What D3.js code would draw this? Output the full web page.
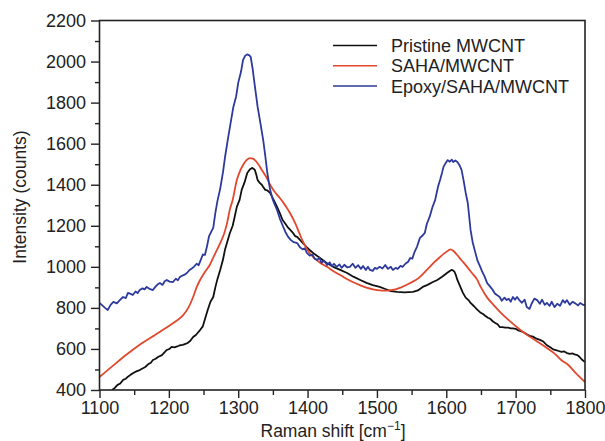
<!DOCTYPE html>
<html>
<head>
<meta charset="utf-8">
<script src="https://cdn.jsdelivr.net/npm/d3@7"></script>
<style>
  body { margin: 0; background: #fff; }
  text { font-family: "Liberation Sans", Arial, sans-serif; fill: #222; }
</style>
</head>
<body>
<div id="viz"></div>
<script>
const width = 605;
const height = 441;
const margin = {top: 20.5, right: 20, bottom: 51, left: 99.5};

const colorPristine = '#111111';
const colorSaha = '#e2482d';
const colorEpoxy = '#2d3a9c';

// Pristine MWCNT (black)
const pristineShift = [1118,1122,1126,1130,1134,1138,1141,1145,1150,1154,1158,1162,1166,1170,1174,1177,1181,1185,1190,1194,1197,1201,1204,1208,1212,1216,1220,1224,1227,1231,1235,1239,1242,1245,1249,1252,1256,1260,1264,1267,1270,1274,1278,1281,1285,1288,1292,1295,1298,1302,1305,1309,1313,1317,1320,1322,1324,1326,1328,1331,1334,1336,1339,1342,1346,1349,1352,1356,1360,1364,1368,1371,1375,1379,1382,1385,1389,1395,1399,1403,1410,1418,1427,1437,1447,1457,1466,1476,1485,1494,1504,1512,1520,1529,1540,1552,1559,1566,1573,1580,1587,1594,1601,1605,1608,1610,1612,1614,1616,1620,1624,1628,1632,1635,1640,1645,1649,1653,1656,1660,1663,1667,1670,1674,1677,1681,1685,1689,1693,1696,1700,1704,1708,1712,1716,1720,1725,1730,1735,1740,1745,1750,1754,1758,1762,1766,1770,1774,1778,1782,1786,1789,1792,1795,1800];
const pristineIntensity = [400,410,425,432,449,455,465,475,485,492,497,505,512,525,533,546,552,562,570,585,595,600,610,608,612,618,620,625,629,640,658,668,680,692,710,745,790,830,853,900,940,985,1034,1085,1131,1165,1200,1245,1292,1326,1375,1410,1457,1475,1482,1478,1472,1450,1423,1409,1400,1389,1375,1372,1360,1340,1320,1292,1262,1228,1210,1195,1180,1165,1150,1146,1131,1110,1095,1082,1062,1043,1020,1000,985,970,952,936,922,911,902,892,882,878,876,878,885,902,912,925,936,952,970,980,985,982,975,958,936,905,873,850,838,824,808,790,778,770,762,752,748,735,728,720,707,706,704,704,700,700,698,690,686,680,672,664,660,650,644,636,618,608,598,594,590,586,588,580,576,578,572,570,562,550,536];

// SAHA/MWCNT (red)
const sahaShift = [1100,1120,1140,1160,1180,1200,1210,1220,1228,1235,1240,1245,1252,1259,1266,1274,1280,1284,1288,1292,1298,1303,1307,1312,1317,1321,1324,1329,1334,1340,1346,1352,1360,1366,1370,1375,1382,1388,1393,1400,1408,1418,1428,1437,1447,1456,1465,1476,1486,1495,1504,1512,1519,1527,1535,1548,1560,1572,1582,1591,1598,1603,1606,1610,1615,1622,1630,1637,1644,1650,1659,1668,1677,1690,1706,1720,1735,1745,1757,1768,1774,1786,1800];
const sahaIntensity = [463,520,575,625,668,712,735,762,800,853,900,936,975,1009,1060,1116,1165,1214,1280,1326,1423,1470,1496,1520,1530,1527,1520,1500,1472,1440,1400,1368,1335,1308,1288,1260,1214,1165,1125,1082,1048,1020,1000,980,960,942,926,910,897,890,885,884,886,890,900,921,945,985,1020,1048,1068,1080,1085,1078,1060,1032,1000,970,940,900,850,815,782,740,695,660,628,605,575,540,528,485,439];

// Epoxy/SAHA/MWCNT (blue)
const epoxyShift = [1100,1104,1108,1112,1116,1120,1125,1130,1134,1138,1141,1145,1148,1152,1155,1158,1162,1165,1168,1172,1177,1181,1184,1187,1191,1194,1197,1201,1206,1210,1213,1216,1220,1223,1226,1230,1233,1236,1240,1243,1246,1249,1252,1255,1258,1261,1264,1267,1270,1274,1278,1281,1285,1289,1293,1297,1300,1304,1307,1310,1313,1316,1318,1321,1324,1328,1332,1336,1339,1342,1346,1350,1353,1356,1360,1365,1368,1372,1376,1380,1385,1389,1393,1396,1399,1403,1407,1410,1414,1417,1420,1424,1428,1432,1435,1438,1442,1446,1449,1453,1457,1461,1465,1469,1473,1477,1480,1484,1487,1490,1494,1497,1500,1504,1508,1512,1516,1520,1523,1527,1530,1534,1537,1541,1545,1548,1551,1554,1558,1562,1565,1569,1572,1576,1580,1584,1588,1591,1594,1596,1599,1602,1605,1608,1610,1613,1616,1619,1622,1625,1628,1631,1635,1638,1642,1645,1649,1652,1655,1659,1663,1667,1670,1674,1677,1680,1684,1687,1690,1693,1696,1699,1702,1706,1709,1713,1716,1720,1723,1727,1731,1735,1738,1742,1745,1749,1752,1756,1760,1764,1768,1771,1774,1778,1782,1786,1790,1793,1797,1800];
const epoxyIntensity = [824,812,800,790,815,829,822,840,853,848,873,868,863,880,872,887,895,890,902,893,887,905,915,921,912,930,936,928,926,942,935,951,958,962,970,985,992,1000,1015,1008,1034,1060,1058,1100,1150,1170,1190,1262,1320,1380,1460,1535,1620,1700,1779,1830,1896,1950,2008,2028,2035,2030,2023,1960,1880,1779,1700,1618,1540,1457,1375,1326,1300,1277,1235,1194,1170,1146,1130,1120,1116,1095,1085,1090,1068,1055,1060,1040,1034,1045,1020,1030,1009,1022,1003,1015,1000,1012,995,1010,998,1000,1015,995,1008,990,1004,985,1000,985,980,995,990,1000,992,1009,990,1000,985,995,990,1005,1000,1015,1025,1043,1040,1070,1100,1141,1150,1165,1210,1243,1290,1326,1389,1423,1460,1487,1505,1520,1512,1522,1511,1518,1511,1495,1472,1420,1360,1311,1180,1120,1068,1030,1000,975,955,921,905,887,870,860,853,835,850,838,845,830,853,840,853,835,825,840,804,795,820,845,838,820,840,815,824,810,830,804,820,810,838,825,838,815,830,822,812,824,815,814];

const yTicks = [400,600,800,1000,1200,1400,1600,1800,2000,2200];
const xTicks = [1100,1200,1300,1400,1500,1600,1700,1800];
const legendLabels = ['Pristine MWCNT', 'SAHA/MWCNT', 'Epoxy/SAHA/MWCNT'];

const series = [
  {shift: pristineShift, intensity: pristineIntensity, color: colorPristine, curve: d3.curveLinear},
  {shift: sahaShift, intensity: sahaIntensity, color: colorSaha, curve: d3.curveMonotoneX},
  {shift: epoxyShift, intensity: epoxyIntensity, color: colorEpoxy, curve: d3.curveLinear}
];

const xScale = d3.scaleLinear()
  .domain([1100, 1800])
  .range([margin.left, width - margin.right]);

const yScale = d3.scaleLinear()
  .domain([400, 2200])
  .range([height - margin.bottom, margin.top]);

const svg = d3.select('#viz')
  .append('svg')
    .attr('width', width)
    .attr('height', height);

// minor ticks
svg.append('g')
    .attr('transform', `translate(${margin.left},0)`)
    .call(d3.axisLeft(yScale).tickValues(d3.range(500, 2200, 200)).tickSize(4.5).tickFormat('').tickSizeOuter(0))
    .call(g => g.select('.domain').remove());

svg.append('g')
    .attr('transform', `translate(0,${height - margin.bottom})`)
    .call(d3.axisBottom(xScale).tickValues(d3.range(1150, 1800, 100)).tickSize(5).tickFormat('').tickSizeOuter(0))
    .call(g => g.select('.domain').remove());

// major ticks
svg.append('g')
    .attr('transform', `translate(${margin.left},0)`)
    .call(d3.axisLeft(yScale).tickValues(yTicks).tickFormat(d3.format('d')).tickSize(8.5).tickPadding(5).tickSizeOuter(0))
    .call(g => g.select('.domain').remove())
    .call(g => g.selectAll('text').attr('font-size', 18).attr('fill', '#222'));

svg.append('g')
    .attr('transform', `translate(0,${height - margin.bottom})`)
    .call(d3.axisBottom(xScale).tickValues(xTicks).tickFormat(d3.format('d')).tickSize(8).tickPadding(3).tickSizeOuter(0))
    .call(g => g.select('.domain').remove())
    .call(g => g.selectAll('text').attr('font-size', 18).attr('fill', '#222'));

svg.selectAll('.tick line').attr('stroke', '#222').attr('stroke-width', 1.4);

// curves
svg.append('clipPath').attr('id', 'plot-clip')
  .append('rect')
    .attr('x', margin.left)
    .attr('y', margin.top)
    .attr('width', width - margin.left - margin.right)
    .attr('height', height - margin.top - margin.bottom);

svg.append('g')
    .attr('clip-path', 'url(#plot-clip)')
  .selectAll('path')
  .data(series)
  .join('path')
    .attr('fill', 'none')
    .attr('stroke', d => d.color)
    .attr('stroke-width', 1.8)
    .attr('stroke-linejoin', 'round')
    .attr('d', d => d3.line()
      .x((v, i) => xScale(v))
      .y((v, i) => yScale(d.intensity[i]))
      .curve(d.curve)(d.shift));

// frame
svg.append('rect')
    .attr('x', margin.left)
    .attr('y', margin.top)
    .attr('width', width - margin.left - margin.right)
    .attr('height', height - margin.top - margin.bottom)
    .attr('fill', 'none')
    .attr('stroke', '#222')
    .attr('stroke-width', 1.6);

// legend
const legend = svg.append('g').attr('transform', 'translate(333,45.5)');
legendLabels.forEach((label, i) => {
  legend.append('line')
      .attr('x1', 0).attr('x2', 44)
      .attr('y1', i * 20.3).attr('y2', i * 20.3)
      .attr('stroke', series[i].color)
      .attr('stroke-width', 1.5);
  legend.append('text')
      .attr('x', 58)
      .attr('y', i * 20.3 + 6.5)
      .attr('font-size', 18)
      .text(label);
});

// axis titles
svg.append('text')
    .attr('transform', 'translate(26,197) rotate(-90)')
    .attr('text-anchor', 'middle')
    .attr('font-size', 17.5)
    .text('Intensity (counts)');

const xTitle = svg.append('text')
    .attr('x', 333)
    .attr('y', 437)
    .attr('text-anchor', 'middle')
    .attr('font-size', 17.5);
xTitle.append('tspan').text('Raman shift [cm');
xTitle.append('tspan').attr('font-size', 12).attr('dy', -7).text('\u22121');
xTitle.append('tspan').attr('dy', 7).text(']');
</script>
</body>
</html>
